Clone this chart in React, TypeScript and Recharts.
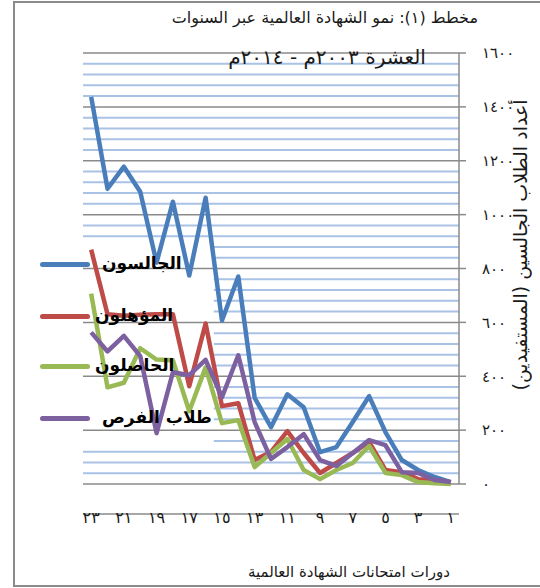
import React from "react";
import { CartesianGrid, Line, LineChart, XAxis, YAxis } from "recharts";

// Exam cycles, plotted right-to-left (cycle 1 at the right edge).
const CYCLES = [1, 2, 3, 4, 5, 6, 7, 8, 9, 10, 11, 12, 13, 14, 15, 16, 17, 18, 19, 20, 21, 22, 23];

// Values, indexed like CYCLES.
const SEATED = [7, 26, 52, 89, 193, 326, 230, 137, 118, 285, 333, 211, 320, 770, 607, 1063, 774, 1048, 822, 1085, 1178, 1096, 1437];
const QUALIFIED = [7, 15, 18, 44, 52, 156, 115, 78, 41, 115, 196, 119, 89, 300, 289, 596, 363, 630, 630, 628, 625, 630, 870];
const PASSED = [0, 3, 7, 33, 41, 141, 78, 52, 18, 52, 167, 115, 63, 237, 226, 433, 270, 459, 462, 504, 376, 359, 707];
const SECOND_CHANCE = [7, 15, 41, 44, 144, 163, 115, 67, 89, 185, 137, 93, 230, 478, 322, 461, 404, 415, 189, 475, 550, 492, 563];

const Y_TICKS = [0, 200, 400, 600, 800, 1000, 1200, 1400, 1600];
const MINOR_TICKS = [
  40, 80, 120, 160, 240, 280, 320, 360, 440, 480, 520, 560, 640, 680, 720, 760,
  840, 880, 920, 960, 1040, 1080, 1120, 1160, 1240, 1280, 1320, 1360, 1440, 1480, 1520, 1560,
];
const X_LABEL_TICKS = [1, 3, 5, 7, 9, 11, 13, 15, 17, 19, 21, 23];
const X_MARK_TICKS = [0.5, 1.5, 2.5, 3.5, 4.5, 5.5, 6.5, 7.5, 8.5, 9.5, 10.5, 11.5, 12.5, 13.5, 14.5, 15.5, 16.5, 17.5, 18.5, 19.5, 20.5, 21.5, 22.5, 23.5];

const SERIES = [
  { key: "seated", name: "الجالسون", color: "#4a7ebb", values: SEATED },
  { key: "qualified", name: "المؤهلون", color: "#be4b48", values: QUALIFIED },
  { key: "passed", name: "الحاصلون", color: "#98b954", values: PASSED },
  { key: "second", name: "طلاب الفرص", color: "#7d60a0", values: SECOND_CHANCE },
];

// legend text left edge / vertical centre, in page pixels
const LEGEND_POS = [
  { x: 102, y: 264 },
  { x: 95, y: 316 },
  { x: 95, y: 366 },
  { x: 102, y: 418 },
];

// the legend's white box hides the minor grid between these values, left of cycle 15.5
const LEGEND_BOX = { low: 140, high: 900, edge: 15.5 };

const FONT = '"DejaVu Sans", sans-serif';
const GRAY = "#8a8a8a";
const MINOR = "#a9c2e6";
const TEXT = "#1a1a1a";

const DOMAIN: [number, number] = [0.5, 23.5];

function arabicDigits(n: number | string): string {
  return String(n).replace(/\d/g, (d) => "٠١٢٣٤٥٦٧٨٩"[Number(d)]);
}

const rows = CYCLES.map((cycle, i) => {
  const row: Record<string, number> = { cycle };
  SERIES.forEach((s) => (row[s.key] = s.values[i]));
  return row;
});

function MinorLine(p: any) {
  const v = MINOR_TICKS[p.index];
  const inBox = v >= LEGEND_BOX.low && v <= LEGEND_BOX.high;
  const span = DOMAIN[1] - DOMAIN[0];
  const x1 = inBox ? p.x1 + (p.x2 - p.x1) * ((DOMAIN[1] - LEGEND_BOX.edge) / span) : p.x1;
  return <line key={p.key} x1={x1} x2={p.x2} y1={p.y1} y2={p.y2} stroke={MINOR} strokeWidth={2} />;
}

export default function App() {
  return (
    <div style={{ position: "absolute", left: 0, top: 0, width: 540, height: 588, background: "#fff", fontFamily: FONT, color: TEXT }}>
      <div
        style={{
          position: "absolute",
          left: 13,
          top: 1,
          width: 527,
          height: 586,
          boxSizing: "border-box",
          borderLeft: `2px solid ${GRAY}`,
          borderTop: `2px solid ${GRAY}`,
          borderBottom: `2px solid ${GRAY}`,
        }}
      />
      <LineChart width={540} height={588} data={rows} margin={{ top: 53, right: 21, bottom: 66, left: 83 }}>
        <CartesianGrid
          xAxisId="marks"
          vertical={false}
          horizontalValues={MINOR_TICKS}
          horizontal={(p: any) => <MinorLine {...p} />}
        />
        <CartesianGrid xAxisId="marks" vertical={false} horizontalValues={Y_TICKS} stroke={GRAY} strokeWidth={1.5} />
        <XAxis
          xAxisId="marks"
          type="number"
          dataKey="cycle"
          domain={DOMAIN}
          reversed
          ticks={X_MARK_TICKS}
          interval={0}
          tick={false}
          tickSize={7}
          height={8}
          axisLine={{ stroke: GRAY, strokeWidth: 1.5 }}
          tickLine={{ stroke: GRAY, strokeWidth: 1.5 }}
          allowDataOverflow
        />
        <XAxis
          xAxisId="labels"
          type="number"
          dataKey="cycle"
          domain={DOMAIN}
          reversed
          ticks={X_LABEL_TICKS}
          interval={0}
          tickFormatter={arabicDigits}
          tickLine={false}
          axisLine={false}
          tickSize={0}
          tickMargin={28}
          height={30}
          tick={{ fontSize: 16, fill: TEXT, fontFamily: FONT, letterSpacing: 2 }}
          allowDataOverflow
        />
        <YAxis
          orientation="right"
          domain={[0, 1600]}
          ticks={Y_TICKS}
          interval={0}
          width={60}
          tickSize={7}
          tickMargin={16}
          tickFormatter={arabicDigits}
          axisLine={{ stroke: GRAY, strokeWidth: 1.5 }}
          tickLine={{ stroke: GRAY, strokeWidth: 1.5 }}
          tick={{ fontSize: 15, fill: TEXT, fontFamily: FONT, letterSpacing: 2 }}
        />
        {SERIES.map((s) => (
          <Line
            key={s.key}
            xAxisId="labels"
            type="linear"
            dataKey={s.key}
            name={s.name}
            stroke={s.color}
            strokeWidth={4.5}
            strokeLinejoin="round"
            dot={false}
            activeDot={false}
            isAnimationActive={false}
          />
        ))}
      </LineChart>

      <div style={{ position: "absolute", right: 62, top: 6, fontSize: 16, direction: "rtl", whiteSpace: "nowrap", lineHeight: "24px" }}>
        مخطط (١): نمو الشهادة العالمية عبر السنوات
      </div>
      <div style={{ position: "absolute", left: 327, top: 45, transform: "translateX(-50%)", fontSize: 20, direction: "rtl", whiteSpace: "nowrap", lineHeight: "24px" }}>
        العشرة ٢٠٠٣م - ٢٠١٤م
      </div>
      <div
        style={{
          position: "absolute",
          left: 520,
          top: 245,
          transform: "translate(-50%, -50%) rotate(-90deg)",
          fontSize: 19,
          direction: "rtl",
          whiteSpace: "nowrap",
        }}
      >
        أعداد الطلاب الجالسين (المستفيدين)
      </div>
      <div style={{ position: "absolute", right: 90, top: 562, fontSize: 15, direction: "rtl", whiteSpace: "nowrap", lineHeight: "20px" }}>
        دورات امتحانات الشهادة العالمية
      </div>

      {SERIES.map((s, i) => (
        <React.Fragment key={s.key}>
          <div
            style={{
              position: "absolute",
              left: 40,
              top: LEGEND_POS[i].y - 2.5,
              width: 50,
              height: 5,
              borderRadius: 2.5,
              background: s.color,
            }}
          />
          <div
            style={{
              position: "absolute",
              left: LEGEND_POS[i].x,
              top: LEGEND_POS[i].y - 13,
              fontSize: 17,
              fontWeight: "bold",
              lineHeight: "24px",
              direction: "rtl",
              whiteSpace: "nowrap",
              color: "#000",
            }}
          >
            {s.name}
          </div>
        </React.Fragment>
      ))}
    </div>
  );
}
